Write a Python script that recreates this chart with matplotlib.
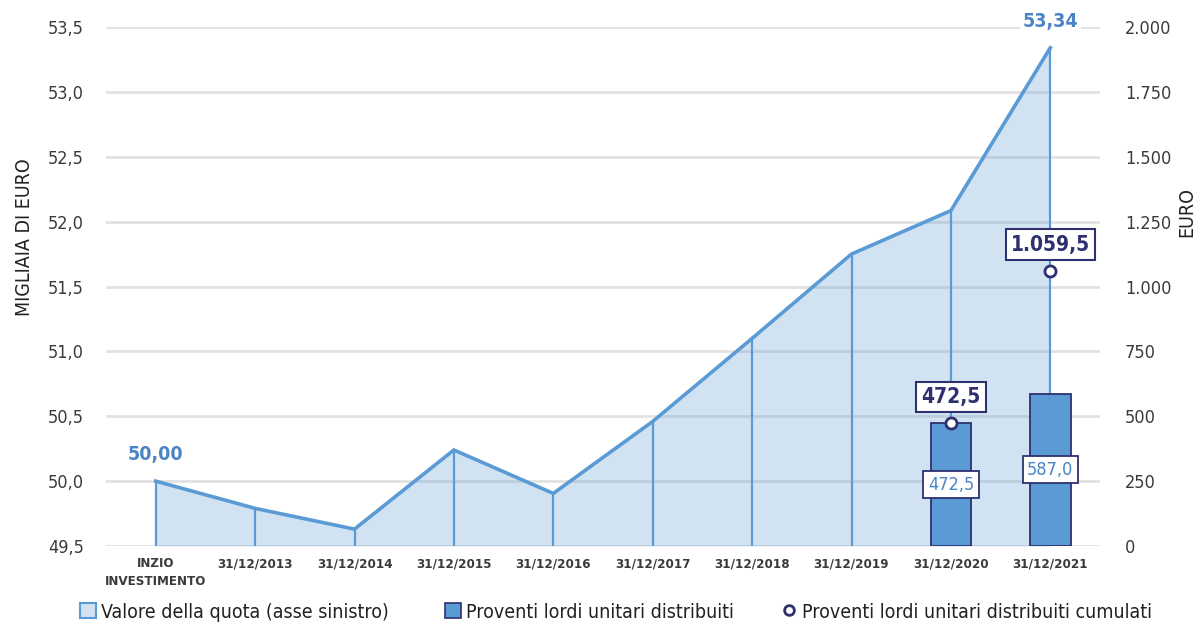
import matplotlib
matplotlib.use("Agg")
import matplotlib.pyplot as plt
from matplotlib.ticker import FuncFormatter, FixedLocator
from matplotlib.patches import Patch
from matplotlib.lines import Line2D

plt.rcParams['font.family'] = ['DejaVu Sans']
plt.rcParams['font.stretch'] = 'condensed'

categories = ["INZIO\nINVESTIMENTO", "31/12/2013", "31/12/2014", "31/12/2015", "31/12/2016",
              "31/12/2017", "31/12/2018", "31/12/2019", "31/12/2020", "31/12/2021"]
quota = [50.00, 49.79, 49.63, 50.24, 49.905, 50.46, 51.10, 51.75, 52.085, 53.34]
bar_idx = [8, 9]
proventi = [472.5, 587.0]
cumulati = [472.5, 1059.5]
left_ticks = [49.5, 50.0, 50.5, 51.0, 51.5, 52.0, 52.5, 53.0, 53.5]
right_ticks = [0, 250, 500, 750, 1000, 1250, 1500, 1750, 2000]

LINE = '#5B9BD5'
BAR = '#5B9BD5'
NAVY = '#2E3070'
LBLUE = '#4A84C4'
TXT = '#3A3A3A'
GRID = '#E2E2E2'

fig = plt.figure(figsize=(12, 6.26), dpi=100)
ax = fig.add_axes([106/1200, 1-546/626, (1100-106)/1200, (546-27)/626])
ax2 = ax.twinx()

x = list(range(len(categories)))
ax.set_xlim(-0.5, len(categories) - 0.5)
ax.set_ylim(49.5, 53.5)
ax2.set_ylim(0, 2000)

for t in left_ticks:
    ax.axhline(t, color=GRID, lw=2.0, zorder=0)

ax.fill_between(x, quota, 49.5, color=LINE, alpha=0.28, lw=0, zorder=1)
ax.vlines(x, 49.5, quota, color=LINE, lw=1.6, zorder=2)
ax.plot(x, quota, color=LINE, lw=2.6, zorder=3, solid_joinstyle='miter')

ax.annotate("50,00", (x[0], quota[0]), xytext=(0, 12), textcoords='offset points',
            ha='center', va='bottom', fontsize=14, color=LBLUE, fontweight='bold')
ax.annotate("53,34", (x[-1], quota[-1]), xytext=(0, 12), textcoords='offset points',
            ha='center', va='bottom', fontsize=14, color=LBLUE, fontweight='bold',
            bbox=dict(boxstyle='square,pad=0.15', fc='white', ec='none'))

bx = [x[i] for i in bar_idx]
ax2.bar(bx, proventi, width=0.41, color=BAR, edgecolor=NAVY, lw=1.3, zorder=4)
for xi, v in zip(bx, proventi):
    ax2.text(xi, v / 2, f"{v:.1f}".replace('.', ','), ha='center', va='center',
             fontsize=13, color=LBLUE, zorder=6,
             bbox=dict(boxstyle='square,pad=0.25', fc='white', ec=NAVY, lw=1.3))

ax2.plot(bx, cumulati, ls='none', marker='o', ms=8, mfc='white', mec=NAVY, mew=2, zorder=7)

def fmt_it(v):
    s = f"{v:,.1f}"
    return s.replace(',', 'X').replace('.', ',').replace('X', '.')

for xi, v in zip(bx, cumulati):
    ax2.annotate(fmt_it(v), (xi, v), xytext=(0, 19), textcoords='offset points',
                 ha='center', va='center', fontsize=15, color=NAVY, fontweight='bold', zorder=8,
                 bbox=dict(boxstyle='square,pad=0.25', fc='white', ec=NAVY, lw=1.5))

for a in (ax, ax2):
    for s in a.spines.values():
        s.set_visible(False)
ax.set_xticks(x)
ax.set_xticklabels(categories, fontsize=9.5, fontweight='bold', color=TXT, linespacing=1.5)
ax.tick_params(axis='x', length=0, pad=8)
ax.yaxis.set_major_locator(FixedLocator(left_ticks))
ax.yaxis.set_major_formatter(FuncFormatter(lambda v, p: f"{v:.1f}".replace('.', ',')))
ax.tick_params(axis='y', length=0, pad=16, labelsize=13, labelcolor=TXT)
ax2.yaxis.set_major_locator(FixedLocator(right_ticks))
ax2.yaxis.set_major_formatter(FuncFormatter(lambda v, p: f"{int(v):,}".replace(',', '.')))
ax2.tick_params(axis='y', length=0, pad=18, labelsize=13, labelcolor=TXT)

fig.text(25/1200, 1-237/626, "MIGLIAIA DI EURO", rotation=90, ha='center', va='center',
         fontsize=14, color='#222222')
fig.text(1187/1200, 1-212/626, "EURO", rotation=90, ha='center', va='center',
         fontsize=14, color='#222222')

h1 = Patch(facecolor='#D1E3F3', edgecolor=LINE, lw=1.5)
h2 = Patch(facecolor=BAR, edgecolor=NAVY, lw=1.2)
h3 = Line2D([], [], ls='none', marker='o', ms=7, mfc='white', mec=NAVY, mew=2)
items = [(h1, "Valore della quota (asse sinistro)", 80),
         (h2, "Proventi lordi unitari distribuiti", 445),
         (h3, "Proventi lordi unitari distribuiti cumulati", 781)]
for h, lab, px in items:
    fig.legend([h], [lab], loc='center left', bbox_to_anchor=(px/1200, 1-612/626),
               frameon=False, fontsize=14, handlelength=0.8, handleheight=0.8,
               handletextpad=0.3, borderaxespad=0, borderpad=0, labelcolor='#222222')

fig.savefig("out.png", dpi=100)
